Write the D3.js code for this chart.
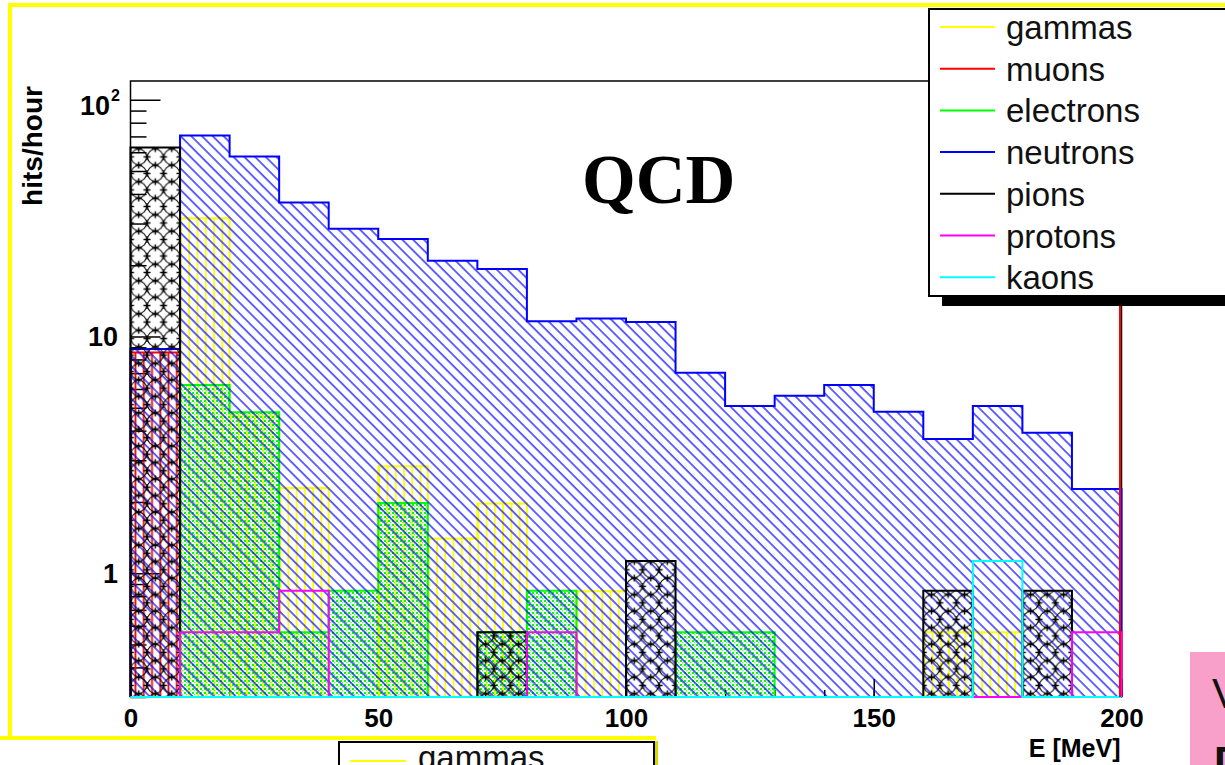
<!DOCTYPE html>
<html>
<head>
<meta charset="utf-8">
<script src="https://cdn.jsdelivr.net/npm/d3@7"></script>
<style>
body { margin: 0; background: #fff; overflow: hidden; }
svg { display: block; }
</style>
</head>
<body>
<script>
// bin edges, 20 bins of 10 MeV
var EDGES = d3.range(0, 201, 10);

// hits/hour per bin (0 = empty bin)
var GAMMAS    = [0, 31.6, 4.6, 2.29, 0, 2.83, 1.40, 1.97, 0, 0.84, 0, 0, 0, 0, 0, 0, 0.563, 0.563, 0, 0];
var MUONS     = [8.56, 0, 0, 0, 0, 0, 0, 0, 0, 0, 0, 0, 0, 0, 0, 0, 0, 0, 0, 0];
var ELECTRONS = [0, 6.24, 4.78, 0.563, 0.844, 1.98, 0, 0.563, 0.844, 0, 0, 0.563, 0.563, 0, 0, 0, 0, 0, 0, 0];
var NEUTRONS  = [8.85, 70.6, 57.6, 36.8, 28.5, 25.8, 20.9, 19.3, 11.6, 11.9, 11.5, 7.03, 5.08, 5.62, 6.24, 4.81, 3.69, 5.08, 3.92, 2.27];
var PIONS     = [62.9, 0, 0, 0, 0, 0, 0, 0.563, 0, 0, 1.125, 0, 0, 0, 0, 0, 0.844, 0, 0.844, 0];
var PROTONS   = [0, 0.563, 0.563, 0.844, 0, 0, 0, 0, 0.563, 0, 0, 0, 0, 0, 0, 0, 0, 0, 0, 0.563];
var KAONS     = [0, 0, 0, 0, 0, 0, 0, 0, 0, 0, 0, 0, 0, 0, 0, 0, 0, 1.125, 0, 0];

var NAMES = ["gammas", "muons", "electrons", "neutrons", "pions", "protons", "kaons"];
var SERIES = [GAMMAS, MUONS, ELECTRONS, NEUTRONS, PIONS, PROTONS, KAONS];

var X_MAJOR = [0, 50, 100, 150, 200];
var X_MINOR = d3.range(0, 201, 10);
var Y_MAJOR = [1, 10, 100];
var Y_MINOR = [0.3, 0.4, 0.5, 0.6, 0.7, 0.8, 0.9, 2, 3, 4, 5, 6, 7, 8, 9, 20, 30, 40, 50, 60, 70, 80, 90];
var Y_LABELS = ["1", "10", "10"];   // the last one gets a superscript 2
var YMIN = 0.3, YMAX = 120;

// styles
var SANS = "'Liberation Sans', Arial, Helvetica, sans-serif";
var SERIF = "'Liberation Serif', 'Times New Roman', serif";
var COLORS = {gammas: "#ffff00", muons: "#ff0000", electrons: "#00ff00", neutrons: "#0000ff",
              pions: "#000000", protons: "#ff00ff", kaons: "#00ffff"};
var FILLS = {gammas: "url(#p-gam)", muons: "url(#p-mu)", electrons: "url(#p-ele)", neutrons: "url(#p-neu)",
             pions: "url(#p-pi)", protons: "none", kaons: "none"};

var W = 1225, H = 765;
var FRAME = {left: 130.5, right: 1121.5, top: 81, bottom: 697};

var svg = d3.select("body").append("svg").attr("width", W).attr("height", H)
    .style("font-family", SANS);

var x = d3.scaleLinear().domain([0, 200]).range([FRAME.left, FRAME.right]);
var y = d3.scaleLog().domain([YMIN, YMAX]).range([FRAME.bottom, FRAME.top]);

// ---- patterns
var defs = svg.append("defs");
var bw = x(10) - x(0);

var pg = defs.append("pattern").attr("id", "p-gam").attr("patternUnits", "userSpaceOnUse")
    .attr("x", x(0)).attr("width", bw / 6).attr("height", 10);
pg.append("line").attr("x1", 1).attr("x2", 1).attr("y1", 0).attr("y2", 10)
    .attr("stroke", COLORS.gammas).attr("stroke-width", 1.8);

var pm = defs.append("pattern").attr("id", "p-mu").attr("patternUnits", "userSpaceOnUse")
    .attr("x", x(0)).attr("width", bw / 6).attr("height", 10);
pm.append("line").attr("x1", 5).attr("x2", 5).attr("y1", 0).attr("y2", 10)
    .attr("stroke", COLORS.muons).attr("stroke-width", 1.8);

var pe = defs.append("pattern").attr("id", "p-ele").attr("patternUnits", "userSpaceOnUse")
    .attr("width", 4).attr("height", 4);
pe.append("rect").attr("x", 0).attr("y", 0).attr("width", 2).attr("height", 2).attr("fill", COLORS.electrons);
pe.append("rect").attr("x", 2).attr("y", 2).attr("width", 1.5).attr("height", 1.5).attr("fill", COLORS.electrons).attr("opacity", 0.6);

var pn = defs.append("pattern").attr("id", "p-neu").attr("patternUnits", "userSpaceOnUse")
    .attr("width", 7.6).attr("height", 7.6).attr("patternTransform", "rotate(-45)");
pn.append("line").attr("x1", 1).attr("x2", 1).attr("y1", 0).attr("y2", 7.6)
    .attr("stroke", COLORS.neutrons).attr("stroke-width", 1.2);

// pions: rings touching each other, with crosses where they touch
var ps = bw / 3;
var pp = defs.append("pattern").attr("id", "p-pi").attr("patternUnits", "userSpaceOnUse")
    .attr("x", x(0)).attr("width", ps).attr("height", ps);
pp.append("circle").attr("cx", ps / 2).attr("cy", ps / 2).attr("r", ps / 2 - 0.5)
    .attr("fill", "none").attr("stroke", "#000").attr("stroke-width", 1);
[[0, ps / 2], [ps, ps / 2], [ps / 2, 0], [ps / 2, ps]].forEach(function (c) {
    pp.append("path").attr("d", "M" + (c[0] - 3.5) + "," + c[1] + "h7M" + c[0] + "," + (c[1] - 3.5) + "v7")
        .attr("stroke", "#000").attr("stroke-width", 1.4);
});

// ---- canvas border (yellow)
svg.append("line").attr("x1", 8).attr("x2", W).attr("y1", 5).attr("y2", 5).attr("stroke", "#ffff00").attr("stroke-width", 4);
svg.append("line").attr("x1", 10).attr("x2", 10).attr("y1", 3).attr("y2", 740).attr("stroke", "#ffff00").attr("stroke-width", 4);
svg.append("line").attr("x1", 0).attr("x2", 656).attr("y1", 738).attr("y2", 738).attr("stroke", "#ffff00").attr("stroke-width", 4);

// ---- axes ticks
function plainTicks(g) { g.select(".domain").remove(); g.selectAll("line").attr("stroke-width", 1.5); }
svg.append("g").attr("transform", "translate(" + FRAME.left + ",0)")
    .call(d3.axisRight(y).tickValues(Y_MINOR).tickSize(16).tickFormat("")).call(plainTicks);
svg.append("g").attr("transform", "translate(" + FRAME.left + ",0)")
    .call(d3.axisRight(y).tickValues(Y_MAJOR).tickSize(30).tickFormat("")).call(plainTicks);
svg.append("g").attr("transform", "translate(0," + FRAME.bottom + ")")
    .call(d3.axisTop(x).tickValues(X_MINOR).tickSize(7).tickFormat("")).call(plainTicks);
svg.append("g").attr("transform", "translate(0," + FRAME.bottom + ")")
    .call(d3.axisTop(x).tickValues(X_MAJOR).tickSize(18).tickFormat("")).call(plainTicks);

// ---- frame
svg.append("rect").attr("x", FRAME.left).attr("y", FRAME.top)
    .attr("width", FRAME.right - FRAME.left).attr("height", FRAME.bottom - FRAME.top)
    .attr("fill", "none").attr("stroke", "#000").attr("stroke-width", 1.5);

// ---- histograms
function stepPoints(vals) {
    var pts = [[x(EDGES[0]), y(YMIN)]];
    vals.forEach(function (v, i) {
        var yy = y(Math.max(v, YMIN));
        pts.push([x(EDGES[i]), yy], [x(EDGES[i + 1]), yy]);
    });
    pts.push([x(EDGES[EDGES.length - 1]), y(YMIN)]);
    return pts;
}
var line = d3.line();

NAMES.forEach(function (name, k) {
    var pts = stepPoints(SERIES[k]);
    if (FILLS[name] !== "none") {
        svg.append("path").attr("d", line(pts) + "Z").attr("fill", FILLS[name]).attr("stroke", "none");
    }
    svg.append("path").attr("d", line(pts)).attr("fill", "none")
        .attr("stroke", COLORS[name]).attr("stroke-width", 2);
});

// muons line along the right edge
svg.append("line").attr("x1", x(200) - 1.5).attr("x2", x(200) - 1.5)
    .attr("y1", y(YMAX)).attr("y2", y(YMIN))
    .attr("stroke", COLORS.muons).attr("stroke-width", 2);

// ---- tick labels
svg.append("g").attr("transform", "translate(0," + FRAME.bottom + ")")
    .call(d3.axisBottom(x).tickValues(X_MAJOR).tickSize(0).tickPadding(12))
    .call(function (g) {
        g.select(".domain").remove();
        g.attr("font-family", SANS);
        g.selectAll("text").attr("font-size", 26).attr("font-weight", "bold").attr("fill", "#000");
    });

Y_MAJOR.forEach(function (v, i) {
    svg.append("text").attr("x", v === 100 ? 110 : 118).attr("text-anchor", "end")
        .attr("font-size", 27).attr("font-weight", "bold")
        .attr("y", y(v) + (v === 100 ? 15 : 10)).text(Y_LABELS[i]);
    if (v === 100) {
        svg.append("text").attr("x", 111).attr("y", y(v) + 1)
            .attr("font-size", 16).attr("font-weight", "bold").text("2");
    }
});

svg.append("text").attr("x", x(200) - 1).attr("y", 757).attr("text-anchor", "end")
    .attr("font-size", 25).attr("font-weight", "bold").text("E [MeV]");

svg.append("text").attr("transform", "translate(42,146) rotate(-90)").attr("text-anchor", "middle")
    .attr("font-size", 28).attr("font-weight", "bold").text("hits/hour");

svg.append("text").attr("x", 582).attr("y", 203)
    .style("font-family", SERIF)
    .attr("font-size", 69).attr("font-weight", "bold").text("QCD");

// ---- legend
var leg = svg.append("g");
leg.append("rect").attr("x", 942).attr("y", 20).attr("width", 320).attr("height", 286).attr("fill", "#000");
leg.append("rect").attr("x", 929).attr("y", 9).attr("width", 320).attr("height", 287)
    .attr("fill", "#fff").attr("stroke", "#000").attr("stroke-width", 2);
NAMES.forEach(function (name, i) {
    var ly = 27 + i * 41.7;
    leg.append("line").attr("x1", 940).attr("x2", 995).attr("y1", ly).attr("y2", ly)
        .attr("stroke", COLORS[name]).attr("stroke-width", 2);
    leg.append("text").attr("x", 1006).attr("y", ly + 12).attr("font-size", 33).attr("fill", "#111").text(name);
});

// ---- neighbouring slide elements
svg.append("rect").attr("x", 654).attr("y", 741).attr("width", 4).attr("height", 30).attr("fill", "#d8d800");
svg.append("rect").attr("x", 339).attr("y", 742).attr("width", 315).attr("height", 40)
    .attr("fill", "#fff").attr("stroke", "#000").attr("stroke-width", 2);
svg.append("line").attr("x1", 350).attr("x2", 406).attr("y1", 761).attr("y2", 761)
    .attr("stroke", COLORS.gammas).attr("stroke-width", 2);
svg.append("text").attr("x", 418).attr("y", 769).attr("font-size", 33).attr("fill", "#111").text("gammas");

svg.append("rect").attr("x", 1190).attr("y", 652).attr("width", 40).attr("height", 120).attr("fill", "#f8a0c9");
svg.append("text").attr("x", 1212).attr("y", 708).attr("font-size", 42).attr("fill", "#111").text("V");
svg.append("text").attr("x", 1214).attr("y", 776).attr("font-size", 42).attr("font-weight", "bold").attr("fill", "#111").text("D");
</script>
</body>
</html>
